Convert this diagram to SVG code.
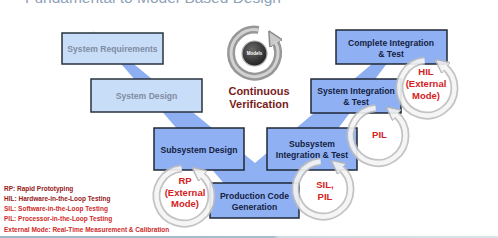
<svg xmlns="http://www.w3.org/2000/svg" width="498" height="238" viewBox="0 0 498 238">
<style>
  text { font-family: "Liberation Sans", Arial, sans-serif; font-weight: bold; }
  .pale { fill: #c8ddf8; stroke: #2a323c; stroke-width: 1.5; }
  .mid { fill: #8fb1f4; stroke: #1f2935; stroke-width: 1.5; }
  .tpale { font-size: 8.6px; fill: #7f8ca2; text-anchor: middle; }
  .tmid { font-size: 8.6px; fill: #15213f; text-anchor: middle; }
  .loop { font-size: 9.5px; fill: #d42222; text-anchor: middle; }
  .cv { font-size: 11px; fill: #7a1c1c; text-anchor: middle; }
  .leg1 { font-size: 6.5px; fill: #962020; }
  .leg2 { font-size: 6.5px; fill: #cf2a2a; }
  .ringo { fill: none; stroke: #bdbdbd; stroke-width: 8; }
  .ringi { fill: none; stroke: #f5f5f5; stroke-width: 4.5; }
</style>
<defs>
  <linearGradient id="bandg" x1="0" y1="30" x2="0" y2="212" gradientUnits="userSpaceOnUse">
    <stop offset="0" stop-color="#c9daf8"/>
    <stop offset="0.2" stop-color="#8eaef2"/>
    <stop offset="1" stop-color="#8fb0f3"/>
  </linearGradient>
  <linearGradient id="lineg" x1="0" y1="0" x2="1" y2="0">
    <stop offset="0" stop-color="#9db6c8"/>
    <stop offset="0.55" stop-color="#a9bfcd"/>
    <stop offset="0.56" stop-color="#d3dbe0"/>
    <stop offset="1" stop-color="#dde3e6"/>
  </linearGradient>
  <radialGradient id="modg" cx="0.4" cy="0.35" r="0.7">
    <stop offset="0" stop-color="#6a6a6a"/>
    <stop offset="1" stop-color="#1e1e1e"/>
  </radialGradient>
  <marker id="ah" viewBox="0 0 10 10" refX="2" refY="5" markerWidth="14" markerHeight="14" markerUnits="userSpaceOnUse" orient="auto">
    <path d="M0,0 L10,5 L0,10 z" fill="#f2f2f2" stroke="#b5b5b5" stroke-width="1"/>
  </marker>
  <marker id="ahm" viewBox="0 0 10 10" refX="2" refY="5" markerWidth="15" markerHeight="15" markerUnits="userSpaceOnUse" orient="auto">
    <path d="M0,0 L10,5 L0,10 z" fill="#c9c9c9" stroke="#8a8a8a" stroke-width="1"/>
  </marker>
</defs>

<rect width="498" height="238" fill="#ffffff"/>
<text x="25" y="2.5" style="font-size:15.5px; font-weight:normal; fill:#8ea2b8;">Fundamental to Model-Based Design</text>

<g id="connectors">
  <polygon id="v-band" points="92,30 255,163 412,30 275.5,212 248.5,212" fill="url(#bandg)"/>
</g>

<g id="system-requirements">
  <rect class="pale" x="62" y="33" width="101" height="31"/>
  <text class="tpale" x="112.5" y="52">System Requirements</text>
</g>
<g id="system-design">
  <rect class="pale" x="91" y="79" width="111" height="33"/>
  <text class="tpale" x="146.5" y="99">System Design</text>
</g>
<g id="subsystem-design">
  <rect class="mid" x="154" y="128" width="90" height="42"/>
  <text class="tmid" x="199" y="152.5">Subsystem Design</text>
</g>
<g id="production-code-generation">
  <rect class="mid" x="210" y="183" width="89" height="35"/>
  <text class="tmid" x="254.5" y="199">Production Code</text>
  <text class="tmid" x="254.5" y="209.5">Generation</text>
</g>
<g id="subsystem-integration-test">
  <rect class="mid" x="267" y="128" width="90" height="42"/>
  <text class="tmid" x="312" y="147">Subsystem</text>
  <text class="tmid" x="312" y="157.5">Integration &amp; Test</text>
</g>
<g id="system-integration-test">
  <rect class="mid" x="311" y="79" width="90" height="34"/>
  <text class="tmid" x="356" y="94">System Integration</text>
  <text class="tmid" x="356" y="104.5">&amp; Test</text>
</g>
<g id="complete-integration-test">
  <rect class="mid" x="336" y="30" width="111" height="34"/>
  <text class="tmid" x="391" y="46">Complete Integration</text>
  <text class="tmid" x="391" y="56.5">&amp; Test</text>
</g>

<g id="continuous-verification">
  <path d="M258.6,29.9 A23.5,23.5 0 1 0 274.85,41.25" fill="none" stroke="#979797" stroke-width="8" marker-end="url(#ahm)"/>
  <path d="M258.6,29.9 A23.5,23.5 0 1 0 274.85,41.25" fill="none" stroke="#d2d2d2" stroke-width="3"/>
  <circle cx="254.5" cy="53.5" r="12.5" fill="url(#modg)" stroke="#b0b0b0" stroke-width="1.2"/>
  <text x="254.5" y="55" style="font-size:4.5px; fill:#ffffff; text-anchor:middle;">Models</text>
  <text class="cv" x="259" y="95">Continuous</text>
  <text class="cv" x="259" y="108">Verification</text>
</g>

<g id="loop-rp" opacity="0.9">
  <path class="ringo" d="M181.6,168.6 A27.5,27.5 0 1 0 200.9,174.3" marker-end="url(#ah)"/>
  <path class="ringi" d="M181.6,168.6 A27.5,27.5 0 1 0 200.9,174.3"/>
</g>
<g id="loop-sil-pil" opacity="0.9">
  <path class="ringo" d="M320.6,161.6 A27.5,27.5 0 1 0 339.9,167.3" marker-end="url(#ah)"/>
  <path class="ringi" d="M320.6,161.6 A27.5,27.5 0 1 0 339.9,167.3"/>
</g>
<g id="loop-pil" opacity="0.9">
  <path class="ringo" d="M375.6,108.1 A27.5,27.5 0 1 0 394.9,113.8" marker-end="url(#ah)"/>
  <path class="ringi" d="M375.6,108.1 A27.5,27.5 0 1 0 394.9,113.8"/>
</g>
<g id="loop-hil" opacity="0.9">
  <path class="ringo" d="M424.6,60.6 A27.5,27.5 0 1 0 443.9,66.3" marker-end="url(#ah)"/>
  <path class="ringi" d="M424.6,60.6 A27.5,27.5 0 1 0 443.9,66.3"/>
</g>

<g id="loop-labels">
  <text class="loop" x="185" y="183.5">RP</text>
  <text class="loop" x="185" y="195.5">(External</text>
  <text class="loop" x="185" y="207">Mode)</text>
  <text class="loop" x="325" y="187.5">SIL,</text>
  <text class="loop" x="325" y="199.5">PIL</text>
  <text class="loop" x="379.5" y="137.5">PIL</text>
  <text class="loop" x="426" y="75">HIL</text>
  <text class="loop" x="426" y="87">(External</text>
  <text class="loop" x="426" y="98.5">Mode)</text>
</g>

<g id="legend">
  <text class="leg1" x="4" y="190.5">RP: Rapid Prototyping</text>
  <text class="leg1" x="4" y="200.8">HIL: Hardware-in-the-Loop Testing</text>
  <text class="leg2" x="4" y="211">SIL: Software-in-the-Loop Testing</text>
  <text class="leg2" x="4" y="221.2">PIL: Processor-in-the-Loop Testing</text>
  <text class="leg2" x="4" y="231.5">External Mode: Real-Time Measurement &amp; Calibration</text>
</g>

<rect x="0" y="236" width="498" height="2" fill="url(#lineg)"/>
</svg>
